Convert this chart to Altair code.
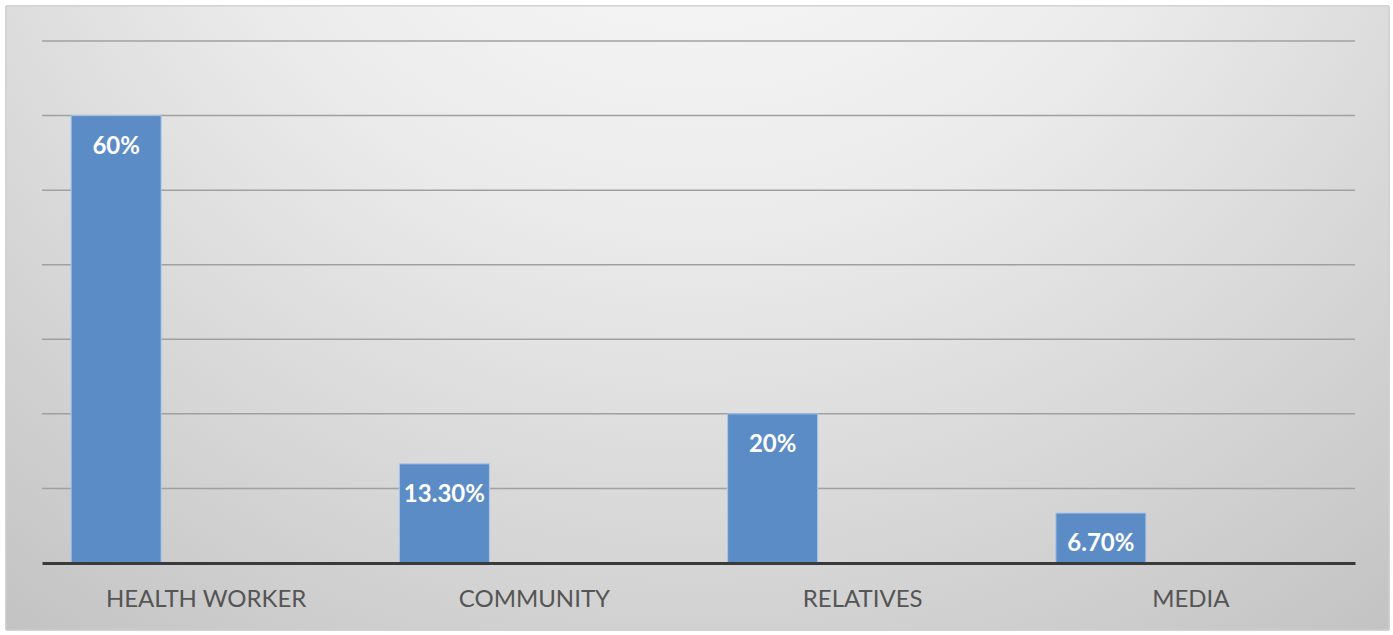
import altair as alt
import pandas as pd

categories = ["HEALTH WORKER", "COMMUNITY", "RELATIVES", "MEDIA"]
values = [60, 13.3, 20, 6.7]
labels = ["60%", "13.30%", "20%", "6.70%"]
series = ["S1", "S2", "S3"]
grid_values = [10, 20, 30, 40, 50, 60, 70]

df = pd.DataFrame({"cat": categories, "val": values, "lab": labels, "ser": series[0]})
gdf = pd.DataFrame({"g": grid_values})

W, H = 1313, 522
PL, PT = 42, 41

x_enc = alt.X("cat:N", sort=categories,
              scale=alt.Scale(paddingInner=0.1775, paddingOuter=0.08875),
              axis=alt.Axis(title=None, labelAngle=0, labelFontSize=24, labelFont="Lato",
                            labelColor="#555555", ticks=False, labelPadding=24,
                            labelLimit=400, labelOverlap=False,
                            domainColor="#3a3a3a", domainWidth=3, zindex=2))
xo_enc = alt.XOffset("ser:N", scale=alt.Scale(domain=series, paddingInner=0, paddingOuter=0))
y_scale = alt.Scale(domain=[0, 70])

bg = alt.Chart(df).mark_rect(
    fill=alt.RadialGradient(
        gradient="radial", x1=0.5, y1=0.05, r1=0.0, x2=0.5, y2=0.05, r2=0.85,
        stops=[alt.GradientStop(offset=0, color="#ffffff"),
               alt.GradientStop(offset=0.45, color="#ebebeb"),
               alt.GradientStop(offset=1, color="#c2c2c2")]),
    stroke="#d0d0d0", strokeWidth=1
).encode(x=alt.value(-36), x2=alt.value(W + 34), y=alt.value(-35), y2=alt.value(H + 67))

grid = alt.Chart(gdf).mark_rule(color="#a0a0a0", strokeWidth=1.5).encode(
    y=alt.Y("g:Q", scale=y_scale, axis=None), x=alt.value(0), x2=alt.value(W))

bars = alt.Chart(df).mark_bar(color="#5b8cc6", stroke="#a9c6ea", strokeWidth=1).encode(
    x=x_enc, xOffset=xo_enc,
    y=alt.Y("val:Q", scale=y_scale, axis=None),
)

text = alt.Chart(df).mark_text(color="white", fontSize=24, font="Lato", fontWeight="bold",
                               baseline="middle", dy=31).encode(
    x=x_enc, xOffset=xo_enc, y=alt.Y("val:Q", scale=y_scale), text="lab:N")

chart = alt.layer(bg, grid, bars, text).properties(
    width=W, height=H,
    padding={"left": PL, "top": PT, "right": 1393 - PL - W, "bottom": 635 - PT - H},
    autosize=alt.AutoSizeParams(type="none"),
    background="white",
).configure_view(strokeWidth=0)

chart.save("out.html", embed_options={"renderer": "svg", "actions": False})
